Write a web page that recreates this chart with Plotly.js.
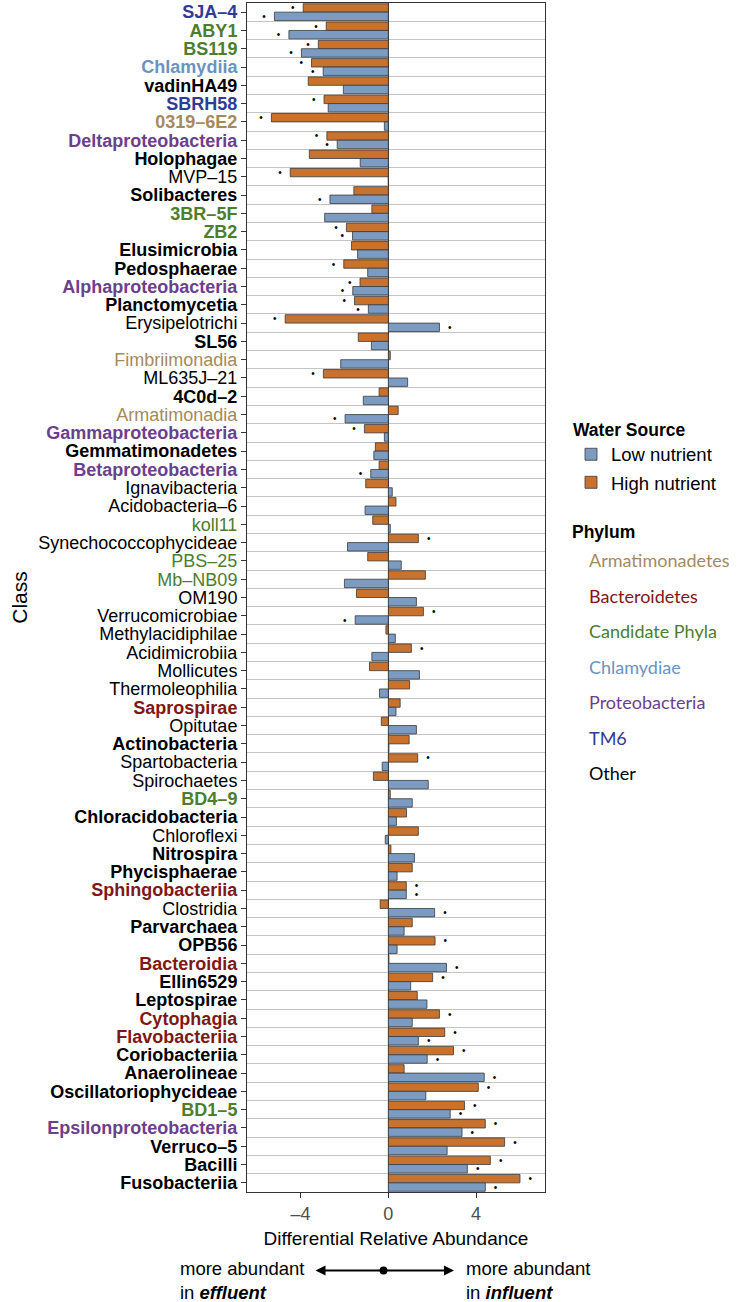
<!DOCTYPE html>
<html><head><meta charset="utf-8">
<script src="https://cdn.plot.ly/plotly-3.0.1.min.js"></script>
<style>body{margin:0;background:#fff}</style>
</head><body><div id="chart" style="width:742px;height:1302px"></div>
<script>
// ---- data (top to bottom) ----
const classes = ['SJA–4','ABY1','BS119','Chlamydiia','vadinHA49','SBRH58','0319–6E2','Deltaproteobacteria','Holophagae','MVP–15',
 'Solibacteres','3BR–5F','ZB2','Elusimicrobia','Pedosphaerae','Alphaproteobacteria','Planctomycetia','Erysipelotrichi','SL56','Fimbriimonadia',
 'ML635J–21','4C0d–2','Armatimonadia','Gammaproteobacteria','Gemmatimonadetes','Betaproteobacteria','Ignavibacteria','Acidobacteria–6','koll11','Synechococcophycideae',
 'PBS–25','Mb–NB09','OM190','Verrucomicrobiae','Methylacidiphilae','Acidimicrobiia','Mollicutes','Thermoleophilia','Saprospirae','Opitutae',
 'Actinobacteria','Spartobacteria','Spirochaetes','BD4–9','Chloracidobacteria','Chloroflexi','Nitrospira','Phycisphaerae','Sphingobacteriia','Clostridia',
 'Parvarchaea','OPB56','Bacteroidia','Ellin6529','Leptospirae','Cytophagia','Flavobacteriia','Coriobacteriia','Anaerolineae','Oscillatoriophycideae',
 'BD1–5','Epsilonproteobacteria','Verruco–5','Bacilli','Fusobacteriia'];
const highNutrient = [-3.88,-2.83,-3.19,-3.50,-3.65,-2.93,-5.33,-2.80,-3.60,-4.47,
 -1.57,-0.75,-1.91,-1.68,-2.03,-1.29,-1.54,-4.70,-1.37,0.09,
 -2.96,-0.42,0.45,-1.09,-0.59,-0.42,-1.03,0.35,-0.71,1.37,
 -0.94,1.69,-1.45,1.60,-0.11,1.05,-0.86,0.97,0.54,-0.32,
 0.95,1.34,-0.68,0.09,0.83,1.37,0.12,1.09,0.82,-0.37,
 1.09,2.13,0.03,2.02,1.32,2.33,2.57,2.97,0.72,4.10,
 3.47,4.42,5.30,4.65,6.00];
const lowNutrient = [-5.19,-4.53,-3.96,-2.97,-2.05,-2.74,-0.18,-2.33,-1.28,0,
 -2.66,-2.90,-1.63,-1.40,-0.94,-1.62,-0.91,2.33,-0.77,-2.17,
 0.88,-1.14,-1.97,-0.18,-0.66,-0.80,0.18,-1.06,0.09,-1.86,
 0.59,-2.00,1.28,-1.51,0.32,-0.75,1.42,-0.40,0.35,1.28,
 0.03,-0.28,1.82,1.09,0.37,-0.14,1.19,0.40,0.82,2.11,
 0.72,0.40,2.65,1.02,1.76,1.09,1.37,1.77,4.37,1.71,
 2.82,3.36,2.68,3.60,4.42];
const sigHigh = [1,1,1,1,0,1,1,1,0,1, 0,0,1,0,1,1,1,1,0,0, 1,0,0,1,0,0,0,0,0,1,
 0,0,0,1,0,1,0,0,0,0, 0,1,0,0,0,0,0,0,1,0, 0,1,0,1,0,1,1,1,0,1, 1,1,1,1,1];
const sigLow = [1,1,1,1,0,0,0,1,0,0, 1,0,1,0,0,1,1,1,0,0, 0,0,1,0,0,1,0,0,0,0,
 0,0,0,1,0,0,0,0,0,0, 0,0,0,0,0,0,0,0,1,1, 0,0,1,0,0,0,1,1,1,0, 1,1,0,1,1];
const phylum = ['TM6','Candidate Phyla','Candidate Phyla','Chlamydiae','Other','TM6','Armatimonadetes','Proteobacteria','Other','Other',
 'Other','Candidate Phyla','Candidate Phyla','Other','Other','Proteobacteria','Other','Other','Other','Armatimonadetes',
 'Other','Other','Armatimonadetes','Proteobacteria','Other','Proteobacteria','Other','Other','Candidate Phyla','Other',
 'Candidate Phyla','Candidate Phyla','Other','Other','Other','Other','Other','Other','Bacteroidetes','Other',
 'Other','Other','Other','Candidate Phyla','Other','Other','Other','Other','Bacteroidetes','Other',
 'Other','Other','Bacteroidetes','Other','Other','Bacteroidetes','Bacteroidetes','Other','Other','Other',
 'Candidate Phyla','Proteobacteria','Other','Other','Other'];
const boldLabel = [1,1,1,1,1,1,1,1,1,0, 1,1,1,1,1,1,1,0,1,0, 0,1,0,1,1,1,0,0,0,0,
 0,0,0,0,0,0,0,0,1,0, 1,0,0,1,1,0,1,1,1,0, 1,1,1,1,1,1,1,1,1,1, 1,1,1,1,1];
const phylumNames = ['Armatimonadetes','Bacteroidetes','Candidate Phyla','Chlamydiae','Proteobacteria','TM6','Other'];
const phylumColors = ['#A58A5E','#7E1716','#4E7D2E','#6A93C0','#6B3F8C','#2E3C96','#000000'];
const xTicks = [-4, 0, 4];
const xTickText = ['–4', '0', '4'];

// ---- geometry helpers (pixels -> paper) ----
const W = 742, H = 1302, ML = 247, MR = 197, MT = 3, MB = 110;
const PW = W - ML - MR, PH = H - MT - MB;
const px = x => (x - ML) / PW;
const py = y => 1 - (y - MT) / PH;

const colorOf = p => phylumColors[phylumNames.indexOf(p)];
const yIdx = classes.map((c, i) => i);
const tickText = classes.map((c, i) => {
  const t = boldLabel[i] ? '<b>' + c + '</b>' : c;
  return '<span style="color:' + colorOf(phylum[i]) + '">' + t + '</span>';
});
const NB = '\u00A0\u00A0';
const dotText = (vals, sig) => vals.map((v, i) => sig[i] ? (v < 0 ? '•' + NB : NB + '•') : '');

const FONT = 'Liberation Sans, Arial, Helvetica, sans-serif';

const traceHigh = {
  type: 'bar', orientation: 'h', name: 'High nutrient',
  x: highNutrient, y: yIdx, legendrank: 2, legendgroup: 'h',
  marker: {color: '#C8722D', line: {color: '#3a3a3a', width: 0.8}},
  text: dotText(highNutrient, sigHigh), textposition: 'outside',
  textfont: {size: 10, color: '#000', family: FONT}, constraintext: 'none', cliponaxis: false,
  hoverinfo: 'x+name'
};
const traceLow = {
  type: 'bar', orientation: 'h', name: 'Low nutrient',
  x: lowNutrient, y: yIdx, legendrank: 1, legendgroup: 'l',
  marker: {color: '#7B9BC3', line: {color: '#3a3a3a', width: 0.8}},
  text: dotText(lowNutrient, sigLow), textposition: 'outside',
  textfont: {size: 10, color: '#000', family: FONT}, constraintext: 'none', cliponaxis: false,
  hoverinfo: 'x+name'
};

const annotations = [
  {text: '<b>Phylum</b>', xref: 'paper', yref: 'paper', x: px(570), y: py(532), xanchor: 'left', yanchor: 'middle',
   showarrow: false, font: {size: 17.5, color: '#000', family: FONT}},
  ...phylumNames.map((p, i) => ({
    text: p, xref: 'paper', yref: 'paper', x: px(587), y: py(560 + i * 35.5), xanchor: 'left', yanchor: 'middle',
    showarrow: false, font: {size: 18, color: phylumColors[i], family: 'Lato, Carlito, sans-serif'}
  })),
  {text: 'more abundant<br>in <b><i>effluent</i></b>', xref: 'paper', yref: 'paper', x: px(178), y: py(1280),
   xanchor: 'left', yanchor: 'middle', align: 'left', showarrow: false, font: {size: 18.5, color: '#000', family: FONT}},
  {text: 'more abundant<br>in <b><i>influent</i></b>', xref: 'paper', yref: 'paper', x: px(464), y: py(1280),
   xanchor: 'left', yanchor: 'middle', align: 'left', showarrow: false, font: {size: 18.5, color: '#000', family: FONT}},
  {text: '', xref: 'paper', yref: 'paper', x: px(454), y: py(1270.5), ax: -(454 - 314), ay: 0,
   showarrow: true, arrowside: 'end+start', arrowhead: 2, arrowsize: 1, arrowwidth: 2, arrowcolor: '#000',
   standoff: 0, startstandoff: 0}
];

const shapes = [
  {type: 'circle', xref: 'paper', yref: 'paper', xsizemode: 'pixel', ysizemode: 'pixel',
   xanchor: px(383.5), yanchor: py(1270.5), x0: -4, x1: 4, y0: -4, y1: 4,
   fillcolor: '#000', line: {width: 0}}
];

const layout = {
  width: W, height: H,
  margin: {l: ML, r: MR, t: MT, b: MB, pad: 0},
  paper_bgcolor: '#fff', plot_bgcolor: '#fff',
  font: {family: FONT, color: '#000'},
  barmode: 'group', bargap: 0.08, bargroupgap: 0,
  showlegend: true,
  legend: {x: px(571), xanchor: 'left', y: py(413), yanchor: 'top',
    title: {text: '<b>Water Source</b>', font: {size: 17.5, family: FONT}},
    font: {size: 18.5, family: FONT}, bgcolor: 'rgba(0,0,0,0)', tracegroupgap: 1, traceorder: 'grouped'},
  xaxis: {
    range: [-6.44, 7.14], tickmode: 'array', tickvals: xTicks, ticktext: xTickText,
    ticks: 'outside', ticklen: 5, tickwidth: 1, tickcolor: '#333',
    tickfont: {size: 18, color: '#4d4d4d', family: FONT},
    showgrid: false, zeroline: true, zerolinecolor: '#333', zerolinewidth: 1,
    showline: true, mirror: true, linecolor: '#333', linewidth: 1,
    title: {text: 'Differential Relative Abundance', font: {size: 19, color: '#000', family: FONT}, standoff: 9},
    fixedrange: true
  },
  yaxis: {
    range: [64.5, -0.5], tickmode: 'array', tickvals: yIdx, ticktext: tickText,
    ticks: 'outside', ticklen: 5, tickwidth: 1, tickcolor: '#333',
    tickfont: {size: 18, family: FONT},
    showgrid: false, zeroline: false,
    minor: {tickmode: 'linear', tick0: 0.5, dtick: 1, showgrid: true, gridcolor: '#c4c4c4', gridwidth: 1, ticklen: 0},
    showline: true, mirror: true, linecolor: '#333', linewidth: 1,
    title: {text: 'Class', font: {size: 21, color: '#000', family: FONT}, standoff: 4},
    fixedrange: true
  },
  annotations: annotations,
  shapes: shapes
};

Plotly.newPlot('chart', [traceHigh, traceLow], layout, {displayModeBar: false, staticPlot: true});
</script>
</body></html>
